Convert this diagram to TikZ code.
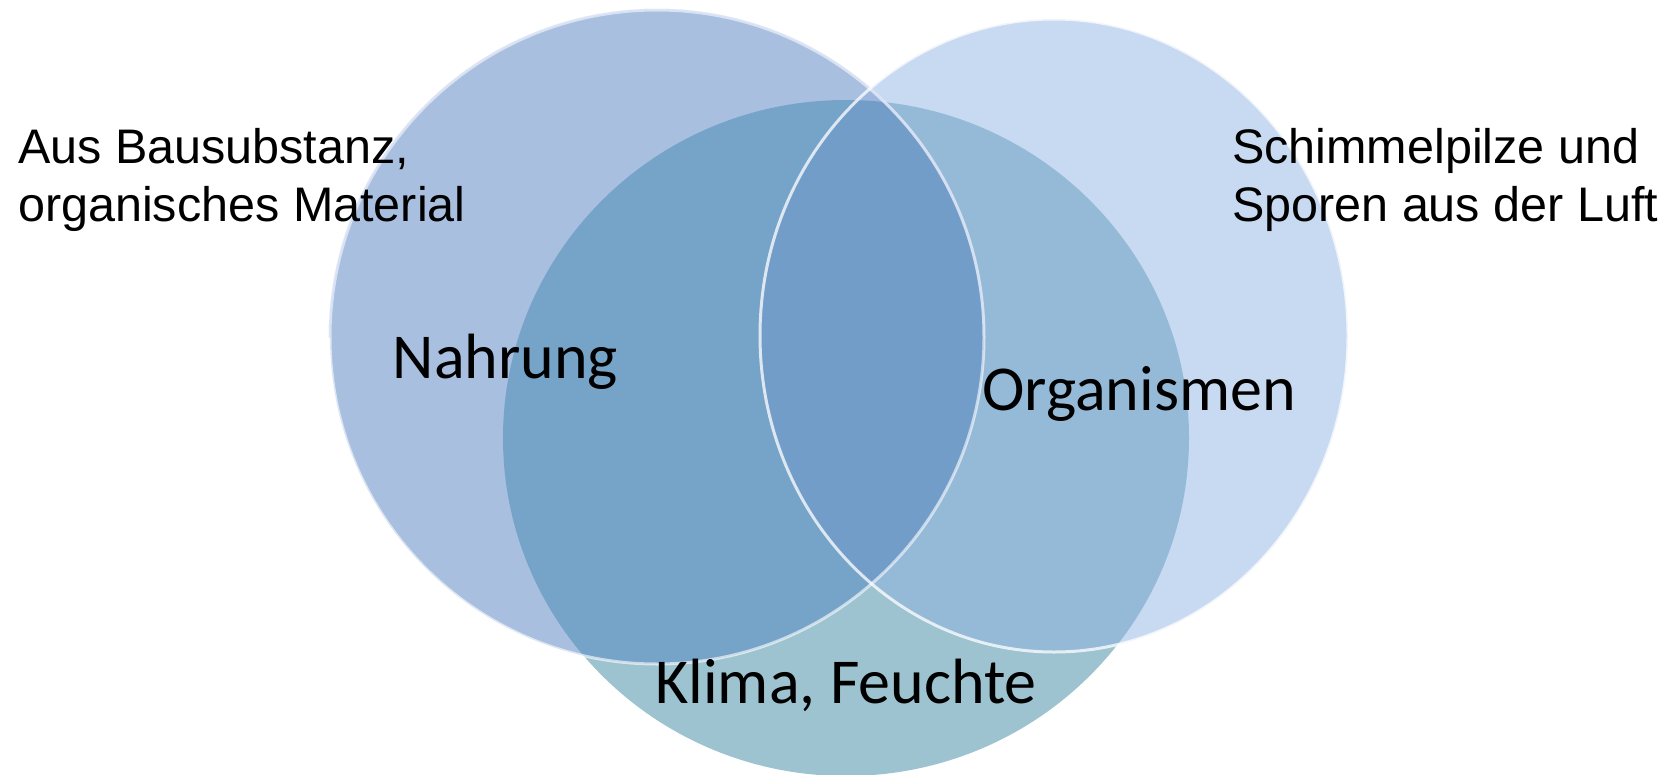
\documentclass[tikz,border=0pt]{standalone}
\usepackage{fontspec}
\newfontfamily\arialfont{Liberation Sans}
\newfontfamily\calfont{Carlito}

% fills of the single sets and of their overlaps
\definecolor{cKlima}{HTML}{9CC3CF}
\definecolor{cNahr}{HTML}{A8BFDF}
\definecolor{cOrg}{HTML}{C8DAF1}
\definecolor{cNahrKlima}{HTML}{76A3C8}
\definecolor{cOrgKlima}{HTML}{95BAD8}
\definecolor{cNahrOrg}{HTML}{9EB5DD}
\definecolor{cAll}{HTML}{729DC9}
\definecolor{cNahrRim}{HTML}{9AB3E2}

% the three sets (units are pixels, y grows downwards)
\newcommand\setNahrung{(657,337) circle [radius=327]}
\newcommand\setOrganismen{(1054,335.5) ellipse [x radius=294, y radius=316.5]}
\newcommand\setKlima{(846,438) ellipse [x radius=343, y radius=338]}

\tikzset{
  sidetext/.style={font=\arialfont\fontsize{48.5}{58}\selectfont, anchor=north west,
    inner sep=0pt, align=left, text=black},
  settext/.style={font=\calfont\fontsize{64}{76}\selectfont, anchor=base,
    inner sep=0pt, text=black},
  rim/.style={draw=white, draw opacity=#1, line width=3pt},
}

\begin{document}
\begin{tikzpicture}[x=1pt, y=-1pt]
  \useasboundingbox (0,0) rectangle (1663,774);
  \fill[white] (0,0) rectangle (1663,774);

  % single sets
  \fill[cKlima] \setKlima;
  \fill[cNahr] \setNahrung;
  \fill[cOrg] \setOrganismen;

  % pairwise overlaps
  \begin{scope}
    \clip \setNahrung;
    \fill[cNahrKlima] \setKlima;
  \end{scope}
  \begin{scope}
    \clip \setOrganismen;
    \fill[cOrgKlima] \setKlima;
  \end{scope}
  \begin{scope}
    \clip \setNahrung;
    \fill[cNahrOrg] \setOrganismen;
  \end{scope}

  % common part of all three
  \begin{scope}
    \clip \setNahrung;
    \clip \setOrganismen;
    \fill[cAll] \setKlima;
  \end{scope}

  % rims: bluish on the upper half of the left set, white elsewhere
  \begin{scope}
    \clip (0,0) rectangle (1663,337);
    \draw[cNahrRim, line width=2.5pt, draw opacity=0.8] \setNahrung;
  \end{scope}
  \draw[rim=0.6] \setNahrung;
  \draw[rim=0.75] \setOrganismen;

  % labels
  \node[sidetext] (quelle) at (18,128.5) {Aus Bausubstanz,\\organisches Material};
  \node[sidetext] (luft) at (1232,128.5) {Schimmelpilze und\\Sporen aus der Luft};
  \node[settext] (nahrung) at (505.5,378) {Nahrung};
  \node[settext] (organismen) at (1139,410) {Organismen};
  \node[settext] (klima) at (846,703) {Klima, Feuchte};
\end{tikzpicture}
\end{document}
